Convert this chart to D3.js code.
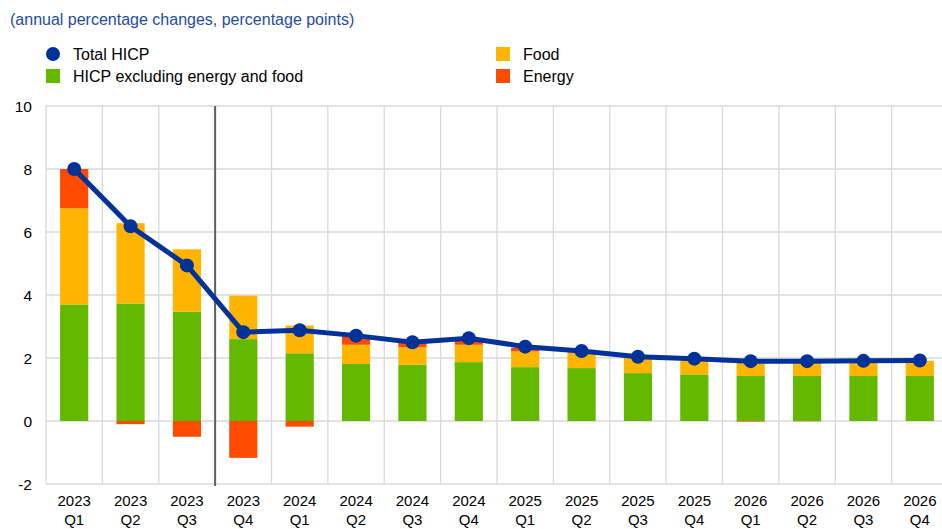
<!DOCTYPE html>
<html>
<head>
<meta charset="utf-8">
<script src="https://cdn.jsdelivr.net/npm/d3@7"></script>
<style>
  body { margin: 0; background: #fff; }
  text { font-family: "Liberation Sans", Arial, sans-serif; }
</style>
</head>
<body>
<div id="chart"></div>
<script>
var years = ['2023', '2023', '2023', '2023', '2024', '2024', '2024', '2024',
             '2025', '2025', '2025', '2025', '2026', '2026', '2026', '2026'];
var quarters = ['Q1', 'Q2', 'Q3', 'Q4', 'Q1', 'Q2', 'Q3', 'Q4',
                'Q1', 'Q2', 'Q3', 'Q4', 'Q1', 'Q2', 'Q3', 'Q4'];
var core = [3.70, 3.73, 3.47, 2.60, 2.15, 1.81, 1.79, 1.87, 1.71, 1.68, 1.52, 1.48, 1.43, 1.43, 1.43, 1.43];
var food = [3.05, 2.55, 1.98, 1.38, 0.88, 0.61, 0.55, 0.55, 0.50, 0.50, 0.50, 0.48, 0.46, 0.46, 0.47, 0.48];
var energy = [1.25, -0.10, -0.50, -1.17, -0.18, 0.27, 0.14, 0.20, 0.12, 0.02, 0.02, 0.02, -0.02, -0.01, 0.0, 0.0];
var hicp = [8.0, 6.18, 4.94, 2.82, 2.88, 2.71, 2.50, 2.63, 2.36, 2.22, 2.04, 1.98, 1.90, 1.90, 1.91, 1.92];
var yTicks = [-2, 0, 2, 4, 6, 8, 10];

var width = 942, height = 529;
var colors = { core: '#65b800', food: '#ffb400', energy: '#ff4b00', hicp: '#003299' };

var svg = d3.select('#chart').append('svg')
    .attr('width', width)
    .attr('height', height);

var idx = d3.range(years.length);
var x = d3.scaleBand().domain(idx).range([46, 948]).paddingInner(0.5).paddingOuter(0.25);
var xGrid = d3.scaleBand().domain(idx).range([46, 948]);
var y = d3.scaleLinear().domain([-2, 10]).range([484, 106]);

// title
svg.append('text')
    .attr('x', 10).attr('y', 25)
    .attr('fill', '#1f4aa8')
    .style('font-size', '16px')
    .text('(annual percentage changes, percentage points)');

// grid
svg.append('g').selectAll('line.h')
    .data(yTicks).enter().append('line')
    .attr('x1', 46).attr('x2', 948)
    .attr('y1', function(d) { return y(d); })
    .attr('y2', function(d) { return y(d); })
    .attr('stroke', '#d9d9d9').attr('stroke-width', 1.3);

svg.append('g').selectAll('line.v')
    .data(idx).enter().append('line')
    .attr('x1', function(d) { return xGrid(d); })
    .attr('x2', function(d) { return xGrid(d); })
    .attr('y1', y(10)).attr('y2', y(-2))
    .attr('stroke', '#d9d9d9').attr('stroke-width', 1.3);

// y labels
svg.append('g').selectAll('text')
    .data(yTicks).enter().append('text')
    .attr('x', 32)
    .attr('y', function(d) { return y(d) + 5.5; })
    .attr('text-anchor', 'end')
    .style('font-size', '15.5px')
    .attr('fill', '#000')
    .text(function(d) { return d; });

// stacked bars
var stacks = idx.map(function(i) {
    var segs = [];
    var pos = 0, neg = 0;
    [['core', core[i]], ['food', food[i]], ['energy', energy[i]]].forEach(function(p) {
        var v = p[1];
        if (v >= 0) { segs.push({ key: p[0], i: i, y0: pos, y1: pos + v }); pos += v; }
        else { segs.push({ key: p[0], i: i, y0: neg + v, y1: neg }); neg += v; }
    });
    return segs;
});

svg.append('g').selectAll('rect')
    .data(d3.merge(stacks)).enter().append('rect')
    .attr('x', function(d) { return x(d.i); })
    .attr('width', x.bandwidth())
    .attr('y', function(d) { return y(d.y1); })
    .attr('height', function(d) { return Math.max(0, y(d.y0) - y(d.y1)); })
    .attr('fill', function(d) { return colors[d.key]; });

// projection separator
svg.append('line')
    .attr('x1', xGrid(3)).attr('x2', xGrid(3))
    .attr('y1', y(10)).attr('y2', y(-2) + 2)
    .attr('stroke', '#5f5f5f').attr('stroke-width', 2);

// HICP line
var line = d3.line()
    .x(function(d, i) { return x(i) + x.bandwidth() / 2; })
    .y(function(d) { return y(d); });

svg.append('path')
    .datum(hicp)
    .attr('d', line)
    .attr('fill', 'none')
    .attr('stroke', colors.hicp)
    .attr('stroke-width', 5);

svg.append('g').selectAll('circle')
    .data(hicp).enter().append('circle')
    .attr('cx', function(d, i) { return x(i) + x.bandwidth() / 2; })
    .attr('cy', function(d) { return y(d); })
    .attr('r', 7)
    .attr('fill', colors.hicp);

// x labels
var xl = svg.append('g').selectAll('text')
    .data(idx).enter().append('text')
    .attr('text-anchor', 'middle')
    .style('font-size', '15px')
    .attr('fill', '#000');
xl.append('tspan')
    .attr('x', function(i) { return x(i) + x.bandwidth() / 2; })
    .attr('y', 506)
    .text(function(i) { return years[i]; });
xl.append('tspan')
    .attr('x', function(i) { return x(i) + x.bandwidth() / 2; })
    .attr('y', 525)
    .text(function(i) { return quarters[i]; });

// legend
var legend = [
    { label: 'Total HICP', type: 'circle', color: colors.hicp, lx: 53, ly: 54 },
    { label: 'HICP excluding energy and food', type: 'rect', color: colors.core, lx: 53, ly: 76 },
    { label: 'Food', type: 'rect', color: colors.food, lx: 503, ly: 54 },
    { label: 'Energy', type: 'rect', color: colors.energy, lx: 503, ly: 76 }
];
var lg = svg.append('g').selectAll('g')
    .data(legend).enter().append('g');
lg.each(function(d) {
    var g = d3.select(this);
    if (d.type === 'circle') {
        g.append('circle').attr('cx', d.lx).attr('cy', d.ly).attr('r', 7).attr('fill', d.color);
    } else {
        g.append('rect').attr('x', d.lx - 7).attr('y', d.ly - 7).attr('width', 14).attr('height', 14).attr('fill', d.color);
    }
    g.append('text')
        .attr('x', d.lx + 20).attr('y', d.ly + 6)
        .style('font-size', '16px')
        .attr('fill', '#000')
        .text(d.label);
});
</script>
</body>
</html>
